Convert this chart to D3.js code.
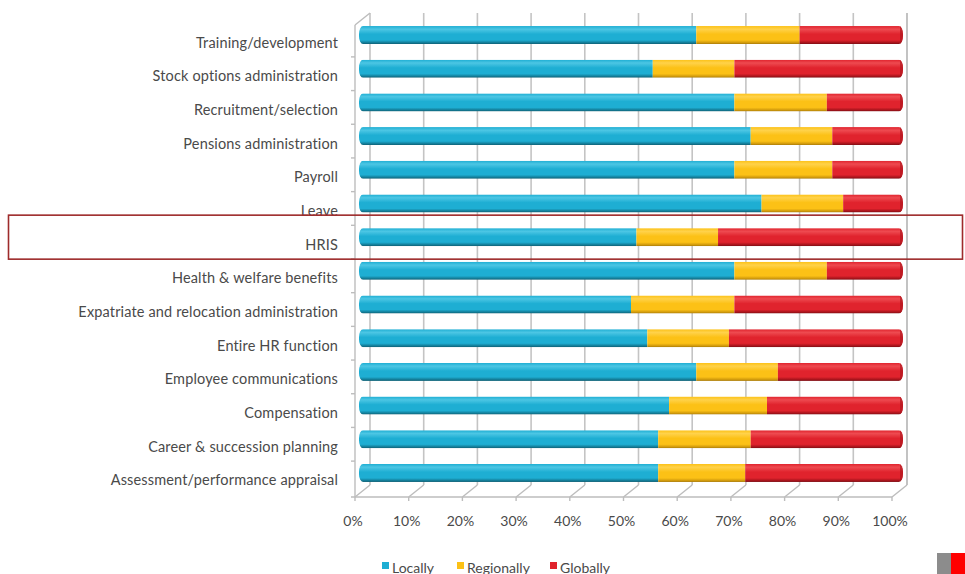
<!DOCTYPE html>
<html>
<head>
<meta charset="utf-8">
<script src="https://cdn.jsdelivr.net/npm/d3@7"></script>
<style>
  html, body { margin: 0; padding: 0; background: #ffffff; }
  svg { display: block; }
  text { font-family: Lato, "Open Sans", sans-serif; fill: #4a4a4a; }
</style>
</head>
<body>
<svg id="chart" width="965" height="574"></svg>
<script>
const categories = [
  "Training/development",
  "Stock options administration",
  "Recruitment/selection",
  "Pensions administration",
  "Payroll",
  "Leave",
  "HRIS",
  "Health & welfare benefits",
  "Expatriate and relocation administration",
  "Entire HR function",
  "Employee communications",
  "Compensation",
  "Career & succession planning",
  "Assessment/performance appraisal"
];
const locally    = [62, 54, 69, 72, 69, 74, 51, 69, 50, 53, 62, 57, 55, 55];
const regionally = [19, 15, 17, 15, 18, 15, 15, 17, 19, 15, 15, 18, 17, 16];
const globally   = [19, 31, 14, 13, 13, 11, 34, 14, 31, 32, 23, 25, 28, 29];
const tickValues = [0, 10, 20, 30, 40, 50, 60, 70, 80, 90, 100];
const tickLabels = ["0%", "10%", "20%", "30%", "40%", "50%", "60%", "70%", "80%", "90%", "100%"];
const seriesNames = ["Locally", "Regionally", "Globally"];
const highlighted = "HRIS";

const colors = {
  Locally:    { light: "#4cc6e4", base: "#1eaed3", dark: "#137d98", edge: "#0f5f74" },
  Regionally: { light: "#ffd24a", base: "#fcc116", dark: "#d29b0c", edge: "#a87a08" },
  Globally:   { light: "#ee4a50", base: "#e0232d", dark: "#a8141c", edge: "#7c0e14" }
};

const svg = d3.select("#chart");
const defs = svg.append("defs");

// 3D depth offset
const depthX = 15, depthY = -12;
const floorY = 497;
const topY = 13;

// scales
const xBar = d3.scaleLinear().domain([0, 100]).range([359, 903]);
const xFront = d3.scaleLinear().domain([0, 100]).range([355, 892]);
const xBack = d3.scaleLinear().domain([0, 100]).range([370, 907]);
const y = d3.scaleBand().domain(categories).range([18.2, 489.8]).padding(0);
const barH = 18;

// gradients
seriesNames.forEach(s => {
  const g = defs.append("linearGradient").attr("id", "grad-" + s)
    .attr("x1", 0).attr("y1", 0).attr("x2", 0).attr("y2", 1);
  const c = colors[s];
  g.append("stop").attr("offset", "0%").attr("stop-color", c.base);
  g.append("stop").attr("offset", "18%").attr("stop-color", c.light);
  g.append("stop").attr("offset", "45%").attr("stop-color", c.base);
  g.append("stop").attr("offset", "78%").attr("stop-color", c.base);
  g.append("stop").attr("offset", "92%").attr("stop-color", c.dark);
  g.append("stop").attr("offset", "100%").attr("stop-color", c.edge);
});

// gridlines (back wall)
const grid = svg.append("g").attr("class", "grid");
grid.selectAll("line.vg").data(tickValues).join("line")
  .attr("class", "vg")
  .attr("x1", d => xBack(d)).attr("x2", d => xBack(d))
  .attr("y1", topY).attr("y2", floorY + depthY)
  .attr("stroke", "#c4c4c4").attr("stroke-width", 1.6);

// left wall
const wall = svg.append("g").attr("class", "walls").attr("stroke", "#bdbdbd").attr("stroke-width", 1.4).attr("fill", "none");
wall.append("line")
  .attr("x1", xFront(0)).attr("x2", xFront(0))
  .attr("y1", topY - depthY).attr("y2", floorY);
wall.append("line")
  .attr("x1", xFront(0)).attr("x2", xBack(0))
  .attr("y1", topY - depthY).attr("y2", topY);
// left wall category ticks
const boundaries = categories.slice(1).map(c => y(c));
wall.selectAll("line.lt").data(boundaries).join("line")
  .attr("class", "lt")
  .attr("x1", xFront(0) - 4).attr("x2", xFront(0))
  .attr("y1", d => d + 5).attr("y2", d => d + 5);

// floor
wall.append("line")
  .attr("x1", xFront(0) - 4).attr("x2", xFront(100))
  .attr("y1", floorY).attr("y2", floorY);
wall.selectAll("line.ft").data(tickValues).join("line")
  .attr("class", "ft")
  .attr("x1", d => xFront(d)).attr("x2", d => xBack(d))
  .attr("y1", floorY).attr("y2", floorY + depthY);
wall.selectAll("line.fd").data(tickValues).join("line")
  .attr("class", "fd")
  .attr("x1", d => xFront(d)).attr("x2", d => xFront(d))
  .attr("y1", floorY).attr("y2", floorY + 4);

// bars
const rows = categories.map((c, i) => ({
  cat: c,
  segs: [
    { s: "Locally", x0: 0, x1: locally[i] },
    { s: "Regionally", x0: locally[i], x1: locally[i] + regionally[i] },
    { s: "Globally", x0: locally[i] + regionally[i], x1: locally[i] + regionally[i] + globally[i] }
  ]
}));

const barsG = svg.append("g").attr("class", "bars");
rows.forEach((r, i) => {
  const cy = y(r.cat) + y.bandwidth() / 2;
  const total = r.segs[2].x1;
  const clipId = "clip-" + i;
  defs.append("clipPath").attr("id", clipId)
    .append("rect")
    .attr("x", xBar(0)).attr("y", cy - barH / 2)
    .attr("width", xBar(total) - xBar(0)).attr("height", barH)
    .attr("rx", 4).attr("ry", 8);
  const g = barsG.append("g").attr("clip-path", "url(#" + clipId + ")");
  g.selectAll("rect").data(r.segs).join("rect")
    .attr("x", d => xBar(d.x0))
    .attr("y", cy - barH / 2)
    .attr("width", d => xBar(d.x1) - xBar(d.x0))
    .attr("height", barH)
    .attr("fill", d => "url(#grad-" + d.s + ")");
  // right cap darker rim
  g.append("rect")
    .attr("x", xBar(total) - 3).attr("y", cy - barH / 2)
    .attr("width", 3).attr("height", barH)
    .attr("fill", colors.Globally.dark).attr("opacity", 0.6);
});

// right wall
wall.append("line")
  .attr("x1", xBack(100)).attr("x2", xBack(100))
  .attr("y1", topY).attr("y2", floorY + depthY);

// category labels
svg.append("g").attr("class", "ylabels")
  .selectAll("text").data(categories).join("text")
  .attr("x", 338)
  .attr("y", d => y(d) + y.bandwidth() / 2 + 7)
  .attr("text-anchor", "end")
  .attr("dominant-baseline", "central")
  .style("font-size", "14.5px")
  .style("letter-spacing", "0.15px")
  .text(d => d);

// x tick labels
svg.append("g").attr("class", "xlabels")
  .selectAll("text").data(tickValues).join("text")
  .attr("x", d => xFront(d) - 2)
  .attr("y", 520)
  .attr("text-anchor", "middle")
  .attr("dominant-baseline", "central")
  .style("font-size", "14px")
  .text((d, i) => tickLabels[i]);

// highlight rectangle
svg.append("rect")
  .attr("x", 8.5).attr("y", y(highlighted) + y.bandwidth() / 2 - 22)
  .attr("width", 954).attr("height", 44)
  .attr("fill", "none").attr("stroke", "#9e2b2b").attr("stroke-width", 1.6);

// legend
const legendX = [382, 457, 550];
const legend = svg.append("g").attr("class", "legend");
seriesNames.forEach((s, i) => {
  legend.append("rect")
    .attr("x", legendX[i]).attr("y", 562)
    .attr("width", 7).attr("height", 7)
    .attr("fill", colors[s].base);
  legend.append("text")
    .attr("x", legendX[i] + 10).attr("y", 567)
    .attr("dominant-baseline", "central")
    .style("font-size", "14px")
    .text(s);
});

// corner decoration
svg.append("rect").attr("x", 937).attr("y", 553).attr("width", 14).attr("height", 21).attr("fill", "#8c8c8c");
svg.append("rect").attr("x", 951).attr("y", 553).attr("width", 14).attr("height", 21).attr("fill", "#ff0000");
</script>
</body>
</html>
